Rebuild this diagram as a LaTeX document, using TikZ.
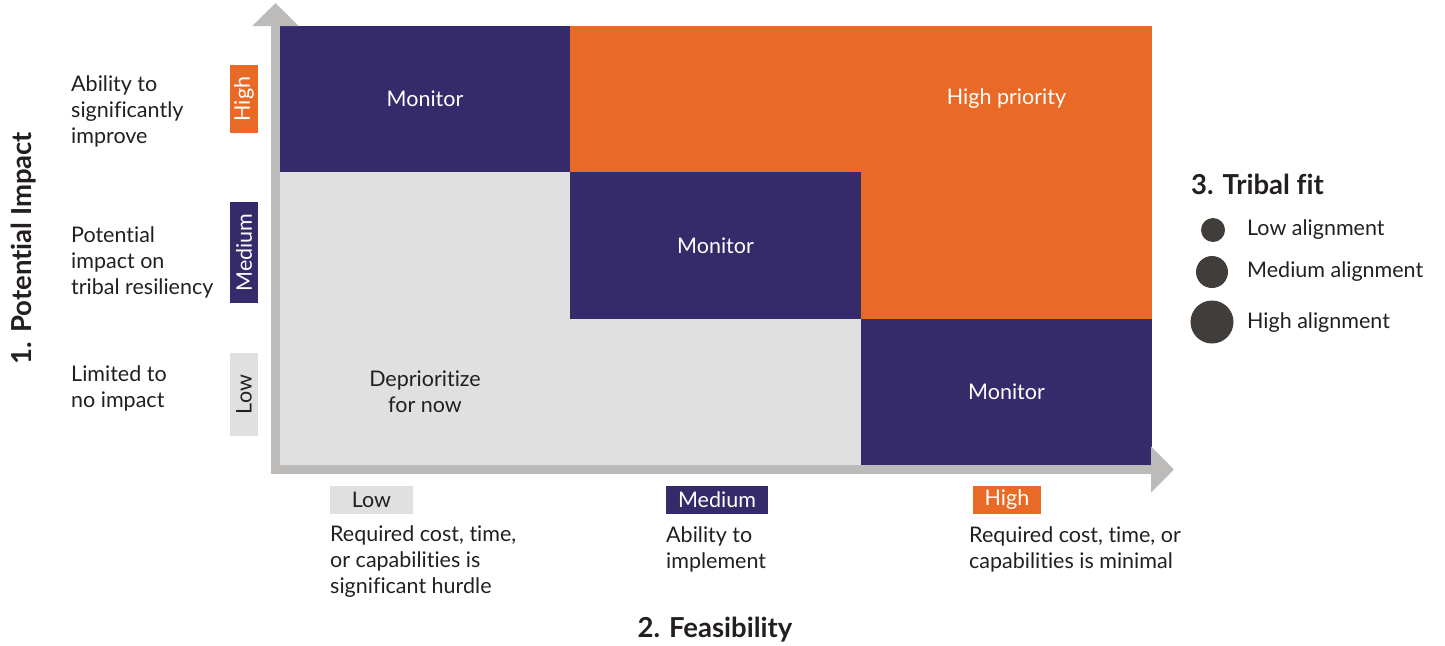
\documentclass[tikz,border=0pt]{standalone}
\usepackage{fontspec}
\setmainfont{Lato}[Ligatures=NoCommon]
\usetikzlibrary{arrows.meta, positioning}

\definecolor{fitpurple}{RGB}{53,42,106}
\definecolor{fitorange}{RGB}{233,105,39}
\definecolor{fitgray}{RGB}{224,224,224}
\definecolor{axisgray}{RGB}{188,187,186}
\definecolor{dotgray}{RGB}{64,61,59}
\definecolor{inkdark}{RGB}{35,31,32}

\begin{document}
\begin{tikzpicture}[
    x=1pt, y=-1pt,
    every node/.style={
        text=inkdark,
    },
    axis/.style={
        draw=axisgray,
        line width=9pt,
        line join=miter,
        {Triangle[length=23pt, width=45pt]}-{Triangle[length=23pt, width=45pt]},
    },
    cell/.style={
        minimum width=291pt,
        minimum height=147pt,
        inner sep=0pt,
        align=center,
        font=\fontsize{21.5}{26}\selectfont,
    },
    tag/.style={
        minimum height=28pt,
        inner sep=0pt,
        font=\fontsize{21.5}{26}\selectfont,
    },
    note/.style={
        anchor=west,
        align=left,
        inner sep=0pt,
        font=\fontsize{21.5}{26}\selectfont,
    },
    heading/.style={
        inner sep=0pt,
        font=\fontsize{27.5}{30}\selectfont\bfseries,
    },
    dot/.style={
        circle,
        fill=dotgray,
        inner sep=0pt,
    }
]
    \useasboundingbox (0,0) rectangle (1445,645);

    % Matrix cells, row by row
    \node[cell, fill=fitpurple, text=white] (mon1) at (425,99) {Monitor};
    \node[cell, fill=fitorange] (top2) at (715.5,99) {};
    \node[cell, fill=fitorange, text=white] (prio) at (1006.5,99) {High priority};
    \node[cell, fill=fitgray] (mid1) at (425,245.5) {};
    \node[cell, fill=fitpurple, text=white] (mon2) at (715.5,245.5) {Monitor};
    \node[cell, fill=fitorange] (mid3) at (1006.5,245.5) {};
    \node[cell, fill=fitgray] (depr) at (425,392) {Deprioritize\\for now};
    \node[cell, fill=fitgray] (low2) at (715.5,392) {};
    \node[cell, fill=fitpurple, text=white] (mon3) at (1006.5,392) {Monitor};

    % Axes
    \coordinate (ytip) at (275.5,3);
    \coordinate (origin) at (275.5,469.5);
    \coordinate (xtip) at (1174,469.5);
    \draw[axis] (ytip) -- (origin) -- (xtip);

    % Impact levels
    \node[tag, fill=fitorange, text=white, rotate=90, minimum width=68pt] (ihigh) at (244,99) {High};
    \node[tag, fill=fitpurple, text=white, rotate=90, minimum width=101pt] (imed) at (244,252.5) {Medium};
    \node[tag, fill=fitgray, rotate=90, minimum width=83pt] (ilow) at (244,394.5) {Low};

    \node[note] (ihighnote) at (71,111) {Ability to\\significantly\\improve};
    \node[note] (imednote) at (71,262) {Potential\\impact on\\tribal resiliency};
    \node[note] (ilownote) at (71,388) {Limited to\\no impact};

    \node[heading, rotate=90] (impact) at (24,248) {1. Potential Impact};

    % Feasibility levels
    \node[tag, fill=fitgray, minimum width=83pt] (flow) at (371.5,500) {Low};
    \node[tag, fill=fitpurple, text=white, minimum width=102pt] (fmed) at (717,500) {Medium};
    \node[tag, fill=fitorange, text=white, minimum width=68pt] (fhigh) at (1007,500) {High};

    \node[note] (flownote) at (330,562) {Required cost, time,\\or capabilities is\\significant hurdle};
    \node[note] (fmednote) at (666,549) {Ability to\\implement};
    \node[note] (fhighnote) at (969,549) {Required cost, time, or\\capabilities is minimal};

    \node[heading] (feas) at (715,630) {2. Feasibility};

    % Tribal fit legend
    \node[heading, anchor=west] (fit) at (1191,184) {3. Tribal fit};
    \node[dot, minimum size=24pt] (dot1) at (1213,230) {};
    \node[dot, minimum size=32pt] (dot2) at (1212,272) {};
    \node[dot, minimum size=43pt] (dot3) at (1212,322) {};
    \node[note] (fit1) at (1247,230) {Low alignment};
    \node[note] (fit2) at (1247,272) {Medium alignment};
    \node[note] (fit3) at (1247,323) {High alignment};
\end{tikzpicture}
\end{document}
